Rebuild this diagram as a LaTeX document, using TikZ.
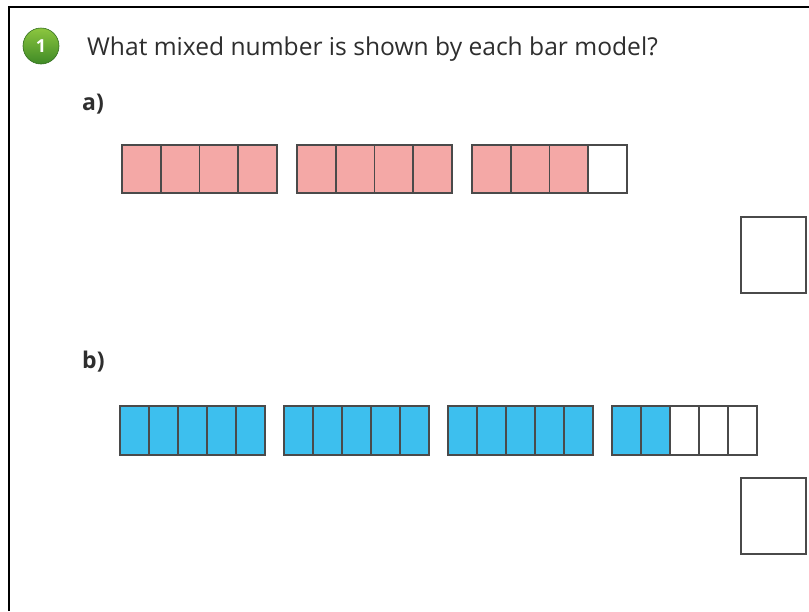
\documentclass[tikz,border=0pt]{standalone}
\usepackage{fontspec}
\setmainfont{Open Sans}
\definecolor{pinkfill}{HTML}{F4A8A6}
\definecolor{bluefill}{HTML}{3DBFEE}
\definecolor{cellline}{HTML}{4A4A4A}
\definecolor{textgrey}{HTML}{2E2E2E}
\definecolor{balltop}{HTML}{8CC63F}
\definecolor{ballbot}{HTML}{3F8A26}
\begin{document}
\begin{tikzpicture}[x=1pt,y=-1pt,
  cellA/.style={draw=cellline,line width=1.6pt,minimum width=38.75pt,minimum height=48pt,inner sep=0pt,outer sep=0pt,anchor=north west},
  cellB/.style={draw=cellline,line width=1.6pt,minimum width=29pt,minimum height=49pt,inner sep=0pt,outer sep=0pt,anchor=north west},
  ansbox/.style={draw=cellline,line width=1.6pt,minimum width=65pt,minimum height=76pt,inner sep=0pt,outer sep=0pt,anchor=north west},
  partlabel/.style={anchor=west,font=\fontsize{23}{27}\selectfont\bfseries,text=textgrey,inner sep=0pt},
  numball/.style={circle,minimum size=36pt,inner sep=0pt,top color=balltop,bottom color=ballbot,draw=ballbot!80!black,line width=0.6pt,text=white,font=\fontsize{18}{20}\selectfont\bfseries}]
\useasboundingbox (0,0) rectangle (809,611);
\fill[white] (0,0) rectangle (809,611);
\draw[line width=2.2pt] (9,611) -- (9,7) -- (809,7);
% question
\node[numball] (num) at (41,46) {1};
\node[anchor=base west,inner sep=0pt,text=textgrey,font=\fontsize{24.6}{28}\selectfont] (title) at (87,55) {What mixed number is shown by each bar model?};
% part a
\node[partlabel] (la) at (82,104) {a)};
\foreach \i in {0,1,2}{
  \foreach \j in {0,1,2,3}{
    \ifnum\numexpr\i*4+\j\relax<11 \def\cfill{pinkfill}\else\def\cfill{white}\fi
    \node[cellA,fill=\cfill] (a\i\j) at ({122+175*\i+38.75*\j},145) {};
  }
}
\node[ansbox] (ansA) at (741,217) {};
% part b
\node[partlabel] (lb) at (82,362) {b)};
\foreach \i in {0,1,2,3}{
  \foreach \j in {0,1,2,3,4}{
    \ifnum\numexpr\i*5+\j\relax<17 \def\cfill{bluefill}\else\def\cfill{white}\fi
    \node[cellB,fill=\cfill] (b\i\j) at ({120+164*\i+29*\j},406) {};
  }
}
\node[ansbox] (ansB) at (741,478) {};
\end{tikzpicture}
\end{document}
